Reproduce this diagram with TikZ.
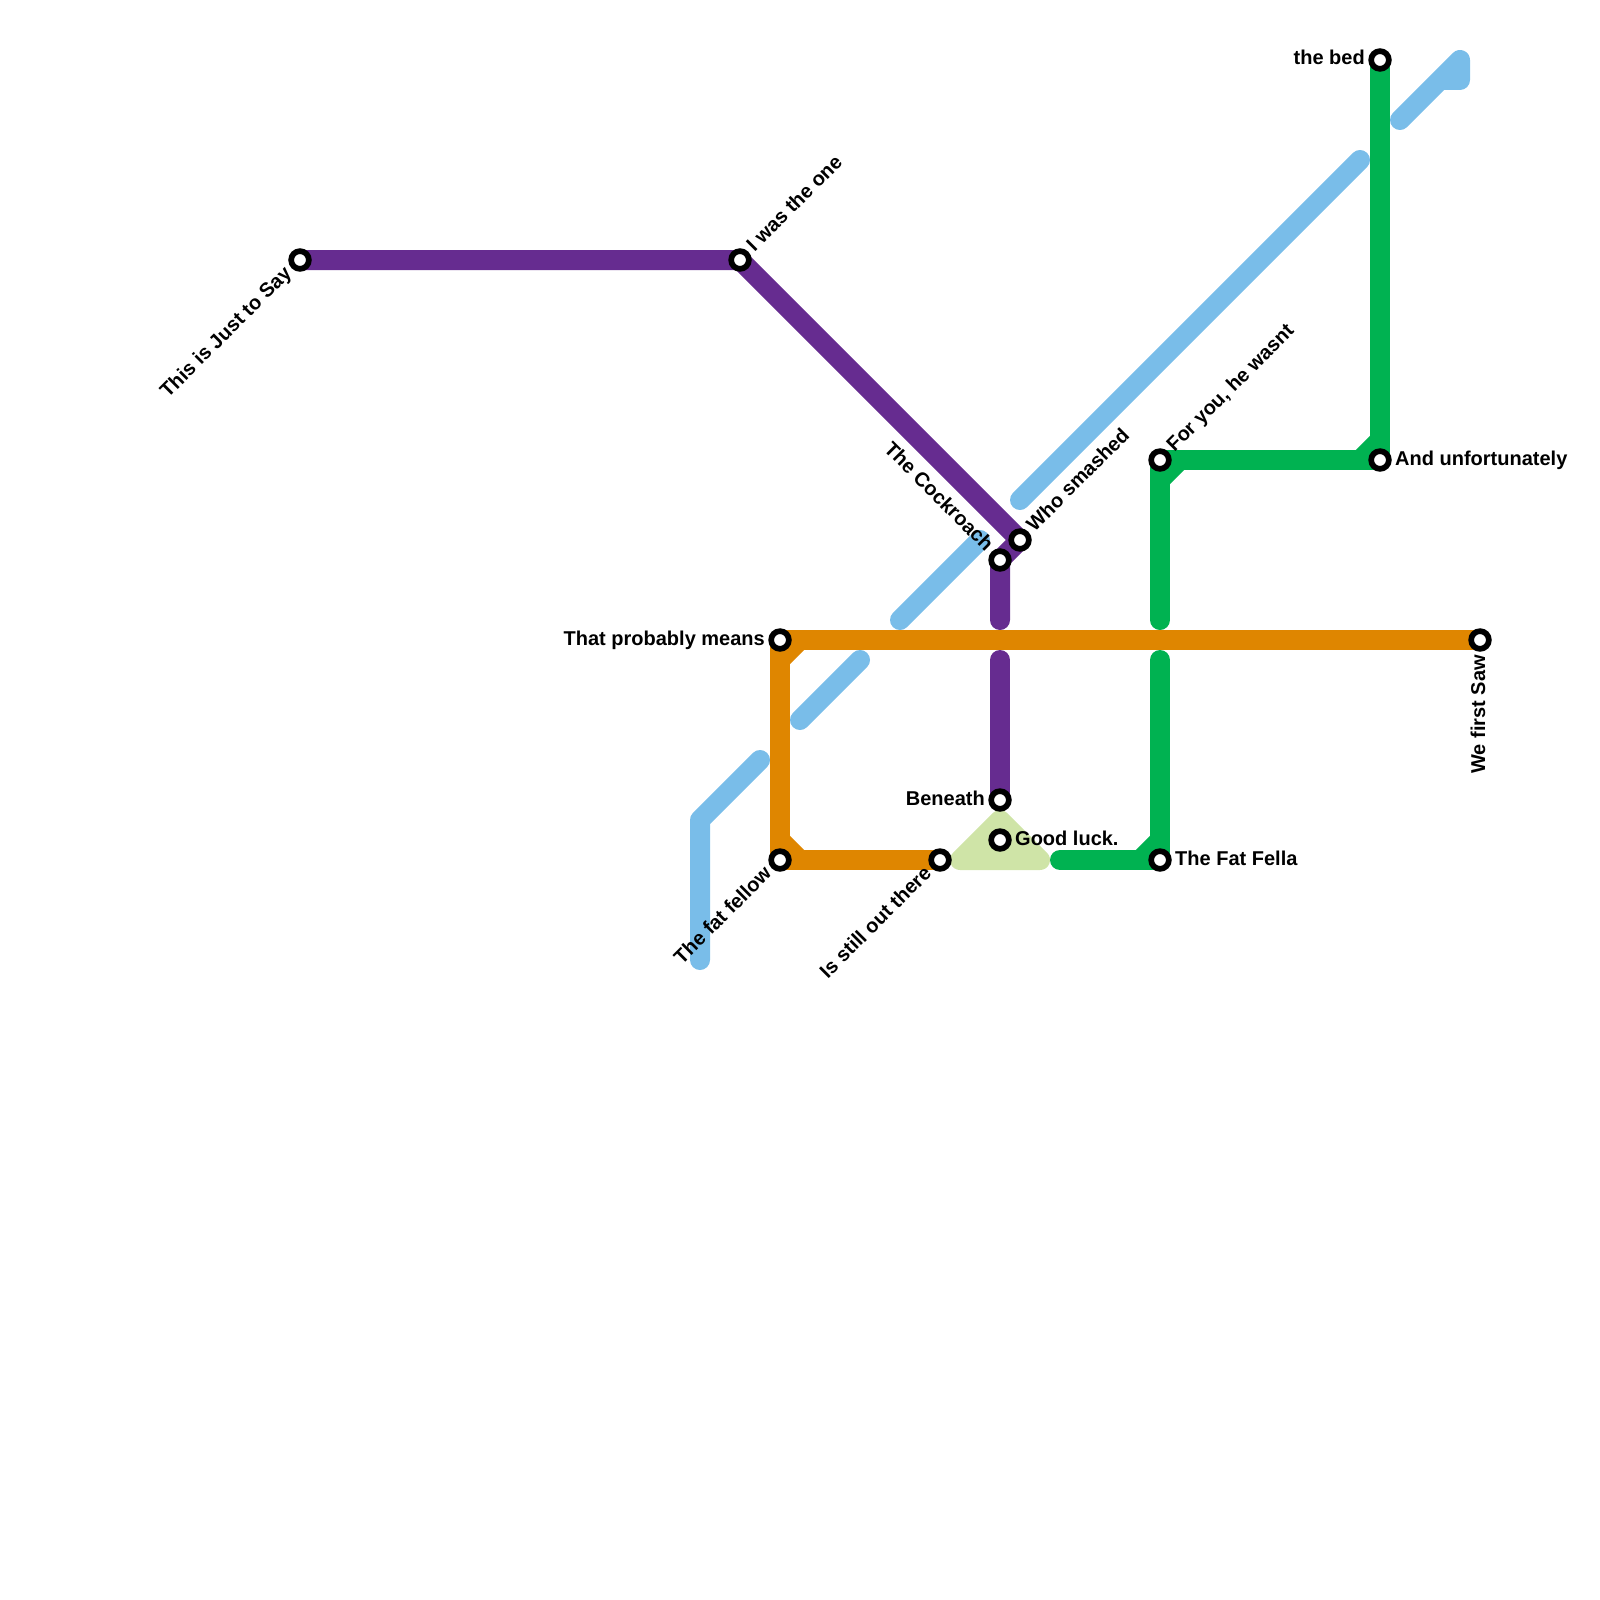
\documentclass[tikz,border=0pt]{standalone}
\usepackage{fontspec}
\setmainfont{Liberation Sans}
\usepackage{xcolor}
\usepackage{tikz}
\usetikzlibrary{backgrounds}
\definecolor{lineblue}{HTML}{79BDE9}
\definecolor{linepurple}{HTML}{662C90}
\definecolor{lineorange}{HTML}{DF8600}
\definecolor{linegreen}{HTML}{00B251}
\definecolor{linepale}{HTML}{CFE4A7}
\tikzset{
  stn/.style={circle,draw=black,fill=white,line width=5.7pt,minimum size=17.7pt,inner sep=0pt},
  lab/.style={font=\fontsize{20}{22}\selectfont\bfseries,inner sep=0pt,text=black,text height=14pt,text depth=4pt},
  labne/.style={lab,anchor=west,xshift=11pt,yshift=11pt,rotate=45},
  labsw/.style={lab,anchor=east,xshift=-11pt,yshift=-11pt,rotate=45},
  labnw/.style={lab,anchor=east,xshift=-11pt,yshift=11pt,rotate=-45},
  labl/.style={lab,anchor=east,xshift=-15pt},
  labr/.style={lab,anchor=west,xshift=15pt},
  labs/.style={lab,anchor=east,yshift=-15pt,rotate=90},
  route/.style={line width=20pt,line cap=round,line join=round},
  chamfer/.style={line width=20pt,line cap=butt},
}
\begin{document}
\begin{tikzpicture}[x=1pt,y=-1pt]
  \useasboundingbox (0,0) rectangle (1600,1600);
  % stations
  \node[stn] (justsay)  at (300,260)  {};
  \node[stn] (wasone)   at (740,260)  {};
  \node[stn] (smashed)  at (1020,540) {};
  \node[stn] (cockroach) at (1000,560) {};
  \node[stn] (beneath)  at (1000,800) {};
  \node[stn] (goodluck) at (1000,840) {};
  \node[stn] (outthere) at (940,860)  {};
  \node[stn] (fatfellow) at (780,860) {};
  \node[stn] (means)    at (780,640)  {};
  \node[stn] (firstsaw) at (1480,640) {};
  \node[stn] (foryou)   at (1160,460) {};
  \node[stn] (unfort)   at (1380,460) {};
  \node[stn] (bed)      at (1380,60)  {};
  \node[stn] (fatfella) at (1160,860) {};
  % labels
  \node[labsw] (lbjust) at (justsay) {This is Just to Say};
  \node[labne] (lbone) at (wasone) {I was the one};
  \node[labne] (lbsmash) at (smashed) {Who smashed};
  \node[labnw] (lbroach) at (cockroach) {The Cockroach};
  \node[labl] (lbbeneath) at (beneath) {Beneath};
  \node[labr] (lbluck) at (goodluck) {Good luck.};
  \node[labsw] (lbthere) at (outthere) {Is still out there};
  \node[labsw] (lbfellow) at (fatfellow) {The fat fellow};
  \node[labl] (lbmeans) at (means) {That probably means};
  \node[labs] (lbsaw) at (firstsaw) {We first Saw};
  \node[labne] (lbyou) at (foryou) {For you, he wasnt};
  \node[labr] (lbunf) at (unfort) {And unfortunately};
  \node[labl] (lbbed) at (bed) {the bed};
  \node[labr] (lbfella) at (fatfella) {The Fat Fella};
  % free ends and bends
  \coordinate (ba) at (700,960);
  \coordinate (bb) at (700,820);
  \coordinate (bc) at (760,760);
  \coordinate (bd) at (800,720);
  \coordinate (be) at (860,660);
  \coordinate (bf) at (900,620);
  \coordinate (bg) at (980,540);
  \coordinate (bh) at (1020,500);
  \coordinate (bi) at (1360,160);
  \coordinate (bj) at (1400,120);
  \coordinate (bk) at (1460,60);
  \coordinate (bl) at (1460,80);
  \coordinate (bm) at (1440,80);
  \coordinate (pa) at (960,860);
  \coordinate (pb) at (1000,820);
  \coordinate (pc) at (1040,860);
  \coordinate (ua) at (1000,620);
  \coordinate (ub) at (1000,660);
  \coordinate (ga) at (1160,620);
  \coordinate (gb) at (1160,660);
  \coordinate (gc) at (1060,860);
  \begin{scope}[on background layer]
    \draw[route,lineblue] (ba) -- (bb) -- (bc);
    \draw[route,lineblue] (bd) -- (be);
    \draw[route,lineblue] (bf) -- (bg);
    \draw[route,lineblue] (bh) -- (bi);
    \draw[route,lineblue] (bj) -- (bk) -- (bl) -- (bm);
    \draw[route,linepale,fill=linepale] (pa) -- (pb) -- (pc) -- cycle;
    \draw[route,linepurple] (justsay.center) -- (wasone.center) -- (smashed.center) -- (cockroach.center) -- (ua);
    \draw[route,linepurple] (ub) -- (beneath.center);
    \draw[route,linegreen] (bed.center) -- (unfort.center) -- (foryou.center) -- (ga);
    \draw[chamfer,linegreen] (1380,440) -- (1360,460);
    \draw[chamfer,linegreen] (1180,460) -- (1160,480);
    \draw[route,linegreen] (gb) -- (fatfella.center) -- (gc);
    \draw[chamfer,linegreen] (1160,840) -- (1140,860);
    \draw[route,lineorange] (firstsaw.center) -- (means.center) -- (fatfellow.center) -- (outthere.center);
    \draw[chamfer,lineorange] (800,640) -- (780,660);
    \draw[chamfer,lineorange] (780,840) -- (800,860);
  \end{scope}
\end{tikzpicture}
\end{document}
